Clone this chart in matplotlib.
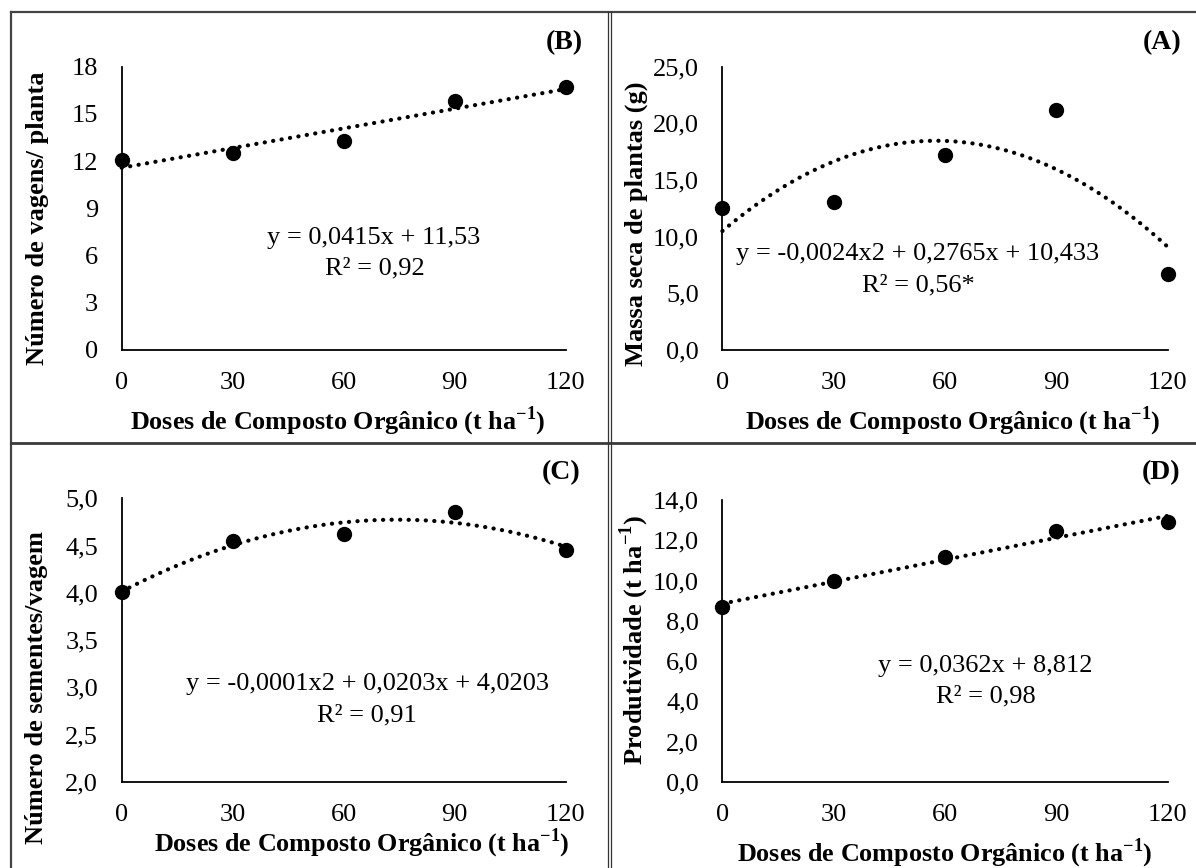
import matplotlib
matplotlib.use('Agg')
import matplotlib.pyplot as plt
import numpy as np
from matplotlib.lines import Line2D

# ---------------- data ----------------
doses = [0, 30, 60, 90, 120]
dose_ticks = [0, 30, 60, 90, 120]

vagens = [12.1, 12.5, 13.3, 15.8, 16.7]          # (B)
massa = [12.5, 13.05, 17.2, 21.2, 6.7]           # (A)
sementes = [4.01, 4.55, 4.62, 4.86, 4.45]        # (C)
produtividade = [8.7, 9.95, 11.15, 12.45, 12.9]  # (D)

yt_b = [0, 3, 6, 9, 12, 15, 18]
yt_a = [0, 5, 10, 15, 20, 25]
yt_c = [2.0, 2.5, 3.0, 3.5, 4.0, 4.5, 5.0]
yt_d = [0, 2, 4, 6, 8, 10, 12, 14]

eq_b = ["y = 0,0415x + 11,53", "R² = 0,92"]
eq_a = ["y = -0,0024x2 + 0,2765x + 10,433", "R² = 0,56*"]
eq_c = ["y = -0,0001x2 + 0,0203x + 4,0203", "R² = 0,91"]
eq_d = ["y = 0,0362x + 8,812", "R² = 0,98"]

xlab = "Doses de Composto Orgânico (t ha$^{\\mathbf{-1}}$)"
ylab_b = "Número de vagens/ planta"
ylab_a = "Massa seca de plantas (g)"
ylab_c = "Número de sementes/vagem"
ylab_d = "Produtividade (t ha$^{\\mathbf{-1}}$)"

# ---------------- style ----------------
plt.rcParams['font.family'] = ['Liberation Serif', 'DejaVu Serif']
plt.rcParams['mathtext.fontset'] = 'custom'
plt.rcParams['mathtext.rm'] = 'Liberation Serif'
plt.rcParams['mathtext.bf'] = 'Liberation Serif:bold'

W, H = 1196, 868
fig = plt.figure(figsize=(W / 100, H / 100), dpi=100)


def px_axes(x0, x1, ytop, ybot):
    return fig.add_axes([x0 / W, 1 - ybot / H, (x1 - x0) / W, (ybot - ytop) / H])


def ftext(x, y, s, **kw):
    return fig.text(x / W, 1 - y / H, s, **kw)


def fmt(v, dec):
    if dec == 0:
        return f"{v:.0f}"
    return f"{v:.{dec}f}".replace('.', ',')


def panel(ax, y, deg, yticks, dec, ylabel, letter, eq, eq_pos, xlab_pos, ylab_pos, letter_pos):
    ax.set_xlim(0, 120)
    ax.set_ylim(yticks[0], yticks[-1])
    for s in ['top', 'right']:
        ax.spines[s].set_visible(False)
    for s in ['left', 'bottom']:
        ax.spines[s].set_linewidth(1.3)
        ax.spines[s].set_color('black')
    ax.set_xticks(dose_ticks)
    ax.set_xticklabels([str(t) for t in dose_ticks])
    ax.set_yticks(yticks)
    ax.set_yticklabels([fmt(v, dec) for v in yticks])
    ax.tick_params(axis='both', length=0, labelsize=19)
    ax.tick_params(axis='y', pad=17)
    ax.tick_params(axis='x', pad=16)
    ax.patch.set_alpha(0)

    coef = np.polyfit(doses, y, deg)
    xf = np.linspace(0, 120, 300)
    ax.plot(xf, np.polyval(coef, xf), color='black', lw=3.0,
            ls=(0, (0.05, 2.0)), dash_capstyle='round', zorder=2, clip_on=False)
    ax.plot(doses, y, 'o', color='black', ms=10, zorder=3, clip_on=False)

    for line, (ex, ey) in zip(eq, eq_pos):
        ftext(ex, ey, line, ha='center', va='center', fontsize=19)
    ftext(letter_pos[0], letter_pos[1], letter, ha='center', va='center',
          fontsize=20, fontweight='bold')
    ftext(xlab_pos[0], xlab_pos[1], xlab, ha='center', va='center',
          fontsize=18.8, fontweight='bold')
    ftext(ylab_pos[0], ylab_pos[1], ylabel, rotation=90, ha='center', va='center',
          fontsize=19, fontweight='bold')


axB = px_axes(121.7, 565.6, 66.7, 350)
axA = px_axes(722.4, 1167.5, 66.7, 350)
axC = px_axes(121.7, 565.6, 498.3, 781.7)
axD = px_axes(722.4, 1167.5, 500, 781.7)

panel(axB, vagens, 1, yt_b, 0, ylab_b, "(B)", eq_b,
      [(374, 238), (375, 268)], (338, 421), (38, 218), (564.5, 43))
panel(axA, massa, 2, yt_a, 1, ylab_a, "(A)", eq_a,
      [(917.5, 254), (918.5, 285)], (953, 421), (636, 224), (1162, 43))
panel(axC, sementes, 2, yt_c, 1, ylab_c, "(C)", eq_c,
      [(367, 684), (366.5, 715)], (362, 843), (36.5, 688), (560.7, 473))
panel(axD, produtividade, 1, yt_d, 1, ylab_d, "(D)", eq_d,
      [(985, 666), (985.5, 696)], (944.5, 853), (634.5, 640), (1160.6, 473))

# ---------------- table frame ----------------
def fline(xs, ys, lw=1.6, color='#444444'):
    fig.add_artist(Line2D([x / W for x in xs], [1 - y / H for y in ys],
                          lw=lw, color=color, transform=fig.transFigure))

fline([11, 11], [12, H])
fline([11, W], [12, 12])
fline([11, W], [443, 443], lw=2.0, color='#3a3a3a')
fline([608, 608], [12, H], lw=0.9, color='#333333')
fline([611, 611], [12, H], lw=0.9, color='#333333')

fig.savefig('out.png', dpi=100)
